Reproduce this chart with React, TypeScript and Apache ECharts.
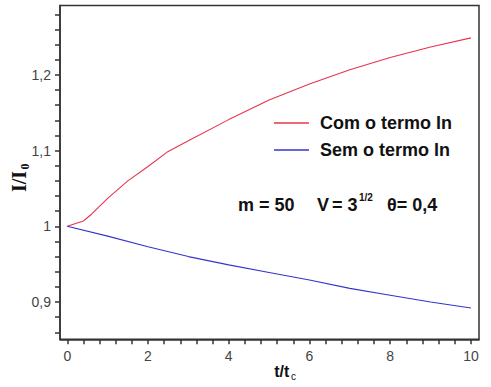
import React, { useEffect, useRef } from "react";
import * as echarts from "echarts";

const seriesNames = ["Com o termo ln", "Sem o termo ln"];
const redT = [0, 0.4, 0.6, 1, 1.5, 2, 2.5, 3, 4, 5, 6, 7, 8, 9, 10];
const redI = [1.0, 1.007, 1.016, 1.037, 1.06, 1.079, 1.099, 1.113, 1.141, 1.167, 1.188, 1.207, 1.223, 1.237, 1.249];
const blueT = [0, 1, 2, 3, 4, 5, 6, 7, 8, 9, 10];
const blueI = [1.0, 0.987, 0.973, 0.96, 0.949, 0.939, 0.929, 0.918, 0.909, 0.9, 0.892];
const xTickLabels = [0, 2, 4, 6, 8, 10];
const yTickLabels = [0.9, 1, 1.1, 1.2];
const xMinorTicks = Array.from({ length: 26 }, (_, i) => +(i * 0.4).toFixed(1));
const yMinorTicks = Array.from({ length: 22 }, (_, i) => +(0.86 + i * 0.02).toFixed(2));

const X_MIN = -0.18;
const X_MAX = 10.2;
const Y_MIN = 0.8507;
const Y_MAX = 1.2918;

const SANS = "'Liberation Sans', Arial, sans-serif";
const SERIF = "'Liberation Serif', 'Times New Roman', serif";
const AX = "#333";

const fmt = (v: number) => String(Number(v.toFixed(2))).replace(".", ",");

function txt(text: string, x: number, y: number, size: number, opts: any = {}) {
  return {
    type: "text",
    x,
    y,
    silent: true,
    style: {
      text,
      fontSize: size,
      fontWeight: opts.weight || "bold",
      fontFamily: opts.family || SANS,
      fill: opts.fill || "#111",
      align: opts.align || "left",
      textAlign: opts.align || "left",
      verticalAlign: "middle",
      textVerticalAlign: "middle",
    },
  };
}

export default function App() {
  const ref = useRef<HTMLDivElement>(null);
  useEffect(() => {
    if (!ref.current) return;
    const chart = echarts.init(ref.current, null, { renderer: "svg" });
    chart.setOption({
      animation: false,
      backgroundColor: "#fff",
      grid: {
        left: 60,
        right: 12,
        top: 5.5,
        bottom: 47.7,
        show: true,
        borderColor: AX,
        borderWidth: 1.5,
        backgroundColor: "transparent",
      },
      legend: {
        data: seriesNames,
        orient: "vertical",
        left: 274,
        top: 114,
        icon: "rect",
        itemWidth: 35,
        itemHeight: 1.3,
        itemGap: 9,
        padding: 0,
        textStyle: {
          fontSize: 18,
          fontWeight: "bold",
          fontFamily: SANS,
          color: "#111",
          padding: [0, 0, 0, 6],
        },
      },
      xAxis: {
        type: "value",
        min: X_MIN,
        max: X_MAX,
        axisLine: { show: true, onZero: false, lineStyle: { color: AX, width: 1.5 } },
        axisTick: { show: true, length: 5, customValues: xMinorTicks, lineStyle: { color: AX, width: 1.5 } },
        axisLabel: {
          customValues: xTickLabels,
          margin: 10,
          color: "#444",
          fontSize: 14,
          fontFamily: SANS,
          formatter: (v: number) => fmt(v),
        },
        splitLine: { show: false },
      },
      yAxis: {
        type: "value",
        min: Y_MIN,
        max: Y_MAX,
        axisLine: { show: true, onZero: false, lineStyle: { color: AX, width: 1.5 } },
        axisTick: { show: true, length: 5, customValues: yMinorTicks, lineStyle: { color: AX, width: 1.5 } },
        axisLabel: {
          customValues: yTickLabels,
          margin: 9,
          color: "#444",
          fontSize: 14,
          fontFamily: SANS,
          formatter: (v: number) => fmt(v),
        },
        splitLine: { show: false },
      },
      series: [
        {
          name: seriesNames[0],
          type: "line",
          symbol: "none",
          showSymbol: false,
          color: "#e8344c",
          lineStyle: { color: "#e8344c", width: 1.1 },
          data: redT.map((t, i) => [t, redI[i]]),
        },
        {
          name: seriesNames[1],
          type: "line",
          symbol: "none",
          showSymbol: false,
          color: "#3434cc",
          lineStyle: { color: "#3434cc", width: 1.1 },
          data: blueT.map((t, i) => [t, blueI[i]]),
        },
      ],
      graphic: [
        {
          type: "group",
          x: 19,
          y: 181.5,
          rotation: Math.PI / 2,
          children: [
            txt("I/I", 0, 0, 20, { family: SERIF, align: "center" }),
            txt("0", 15, 5.5, 12, { family: SERIF, align: "center" }),
          ],
        },
        txt("t/t", 281.7, 371, 16, { align: "center" }),
        txt("c", 293.5, 376.5, 10, { align: "center", weight: "normal" }),
        txt("m = 50", 238, 205, 18),
        txt("V", 317, 205, 18),
        txt("= 3", 332, 205, 18),
        txt("1/2", 359, 197, 10),
        txt("θ= 0,4", 387, 205, 18),
      ],
    });
    return () => chart.dispose();
  }, []);
  return (
    <div
      ref={ref}
      style={{ position: "fixed", left: 0, top: 0, width: 491, height: 387, background: "#fff" }}
    />
  );
}
